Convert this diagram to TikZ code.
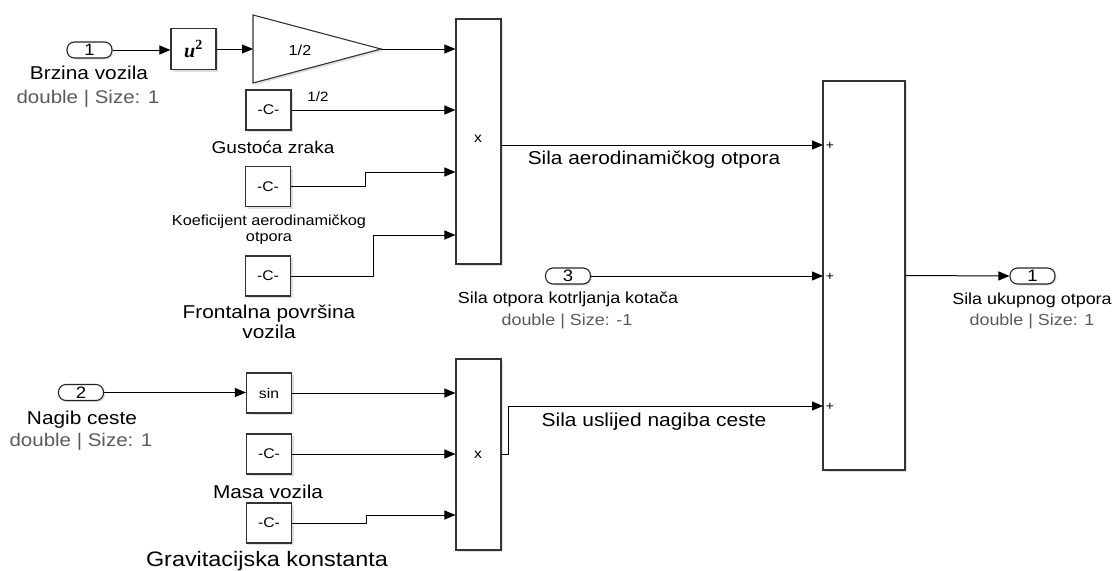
\documentclass[tikz,border=0pt]{standalone}
\usepackage{fontspec}
\setmainfont[FakeStretch=1.12]{Liberation Sans}
\newfontfamily\serifbi{Liberation Serif}
\usetikzlibrary{arrows.meta,shadows,calc}
\definecolor{dtype}{HTML}{5A5A5A}
\newcommand{\fs}[1]{\fontsize{#1}{#1}\selectfont}
\begin{document}
\begin{tikzpicture}[x=1pt,y=-1pt,
  blk/.style={draw=black!80,line width=1.1pt,fill=white,inner sep=0pt,
    drop shadow={opacity=0.25,shadow xshift=2pt,shadow yshift=-2pt}},
  cblk/.style={blk,minimum width=45pt,minimum height=40pt,font=\fs{14}},
  port/.style={draw=black!85,line width=1.1pt,fill=white,rounded corners=7.5pt,
    minimum width=45pt,minimum height=16pt,inner sep=0pt,font=\fs{16.5},
    drop shadow={opacity=0.25,shadow xshift=1.5pt,shadow yshift=-1.5pt}},
  sig/.style={draw=black,line width=1pt,-{Triangle[length=11pt,width=9pt]}},
  lbl/.style={inner sep=0pt,anchor=center,font=\fs{18.6}},
  dlbl/.style={inner sep=0pt,anchor=center,text=dtype},
  plus/.style={inner sep=0pt,font=\fs{12.5}}
]
\useasboundingbox (0,0) rectangle (1115,570);

% ---- top group ----
\node[port] (in1) at (89.5,50) {1};
\node[lbl] (in1n) at (89,73) {Brzina vozila};
\node[dlbl,font=\fs{18.3}] (in1d) at (88,99) {double | Size: 1};

\node[blk,minimum width=45pt,minimum height=41pt,font=\fs{20}\serifbi\bfseries] (u2) at (193.5,49) {\textit{u}\textsuperscript{2}};

\coordinate (gin) at (253,49);
\coordinate (gtip) at (381,49);
\filldraw[draw=black!80,line width=1.1pt,fill=white,
  drop shadow={opacity=0.25,shadow xshift=2pt,shadow yshift=-2pt}]
  (253,15) -- (gtip) -- (253,83) -- cycle;
\node[inner sep=0pt,font=\fs{14.5}] (gain) at (300,50) {1/2};

\node[blk,minimum width=45pt,minimum height=245pt] (p1) at (478.5,141.5) {};
\node[inner sep=0pt,font=\fs{14}] (p1x) at (478,139) {x};

\node[cblk] (c1) at (268.5,110) {-C-};
\node[lbl,font=\fs{17}] (c1n) at (273,147) {Gustoća zraka};
\node[inner sep=0pt,font=\fs{13.5}] (c1v) at (318,97) {1/2};

\node[cblk] (c2) at (268,186.5) {-C-};
\node[inner sep=0pt,font=\fs{14.5},align=center] (c2n) at (269,230) {Koeficijent aerodinamičkog\\[1.5pt]otpora};

\node[cblk] (c3) at (268,276) {-C-};
\node[lbl,align=center] (c3n) at (269,322) {Frontalna površina\\[2pt]vozila};

% ---- sum and output ----
\node[blk,minimum width=82pt,minimum height=389pt] (sum) at (864,275.5) {};
\coordinate (s1) at (823,145);
\coordinate (s2) at (823,276);
\coordinate (s3) at (823,406);
\node[plus] (pl1) at (830,146) {+};
\node[plus] (pl2) at (830,277) {+};
\node[plus] (pl3) at (830,407) {+};

\node[port] (out1) at (1032.5,276) {1};
\node[lbl,font=\fs{16}] (out1n) at (1032,300) {Sila ukupnog otpora};
\node[dlbl,font=\fs{16}] (out1d) at (1032,321) {double | Size: 1};

\node[port] (in3) at (568,276) {3};
\node[lbl,font=\fs{16}] (in3n) at (568,299) {Sila otpora kotrljanja kotača};
\node[dlbl,font=\fs{16}] (in3d) at (567,321) {double | Size: -1};

\node[lbl] (f1) at (654,160) {Sila aerodinamičkog otpora};
\node[lbl,font=\fs{18.7}] (f2) at (654,422) {Sila uslijed nagiba ceste};

% ---- bottom group ----
\node[port] (in2) at (81,392.5) {2};
\node[lbl] (in2n) at (82,420) {Nagib ceste};
\node[dlbl,font=\fs{18.3}] (in2d) at (81,442) {double | Size: 1};

\node[cblk] (sin) at (269,393) {sin};
\node[cblk] (c4) at (269,454) {-C-};
\node[lbl] (c4n) at (268,492) {Masa vozila};
\node[cblk] (c5) at (269,523) {-C-};
\node[lbl,font=\fs{20.9}] (c5n) at (267,561) {Gravitacijska konstanta};

\node[blk,minimum width=45pt,minimum height=191pt] (p2) at (478.5,454.5) {};
\node[inner sep=0pt,font=\fs{14}] (p2x) at (478,455) {x};

% ---- connectors ----
\draw[sig] (in1.east) -- (in1.east -| u2.west);
\draw[sig] (u2.east) -- (gin);
\draw[sig] (gtip) -- (gtip -| p1.west);
\draw[sig] (c1.east) -- (c1.east -| p1.west);
\draw[sig] (c2.east) -- (365,186.5) -- (365,172) -- (p1.west |- 0,172);
\draw[sig] (c3.east) -- (373,276) -- (373,235) -- (p1.west |- 0,235);
\draw[sig] (p1.east |- s1) -- (s1);
\draw[sig] (in3.east) -- (s2);
\draw[sig] (p2.east) -- (508,454.5) -- (508,406) -- (s3);
\draw[sig] (sum.east) -- (out1.west);

\draw[sig] (in2.east) -- (in2.east -| sin.west);
\draw[sig] (sin.east) -- (sin.east -| p2.west);
\draw[sig] (c4.east) -- (c4.east -| p2.west);
\draw[sig] (c5.east) -- (366,523) -- (366,515) -- (p2.west |- 0,515);
\end{tikzpicture}
\end{document}
